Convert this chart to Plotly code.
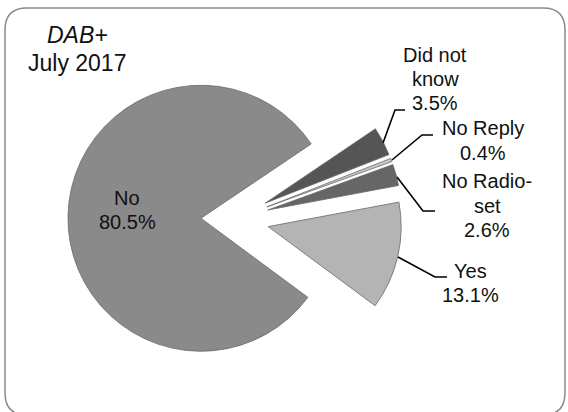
import plotly.graph_objects as go

# ---- data ----
categories = ["Did not know", "No Reply", "No Radio-set", "Yes", "No"]
values = [3.5, 0.4, 2.6, 13.1, 80.5]
display_lines = [["Did not", "know"], ["No Reply"], ["No Radio-", "set"], ["Yes"], ["No"]]
colors = ["#555555", "#c6c6c6", "#666666", "#b4b4b4", "#8a8a8a"]
title_lines = ["<i>DAB+</i>", "July 2017"]

W, H = 568, 412

def px(x):
    return x / W

def py(y):
    return 1 - y / H

# pie placement (pixels): centre (235,219), radius 133, pull 0.256
cx, cy, r, pull = 235, 219, 133, 0.256
half = r * (1 + pull)

fig = go.Figure()
fig.add_trace(go.Pie(
    labels=categories,
    values=values,
    sort=False,
    direction="clockwise",
    rotation=56,
    pull=[pull] * len(values),
    marker=dict(colors=colors, line=dict(color="#6a6a6a", width=0.8)),
    textinfo="none",
    hoverinfo="label+percent",
    showlegend=False,
    domain=dict(x=[px(cx - half), px(cx + half)], y=[py(cy + half), py(cy - half)]),
))

FAM = "Liberation Sans, Arial, sans-serif"
font = dict(family=FAM, size=20, color="#111111")

# label block layout: centre x, first line y, line step (pixels)
label_pos = {
    "Did not know": (435, 55, 24),
    "No Reply": (483, 128, 25),
    "No Radio-set": (487, 181, 24.5),
    "Yes": (470, 271, 24),
    "No": (127, 198, 24),
}
annotations = []
for cat, lines, val in zip(categories, display_lines, values):
    x, y0, step = label_pos[cat]
    for i, t in enumerate(lines + [f"{val}%"]):
        annotations.append(dict(
            x=px(x), y=py(y0 + i * step), xref="paper", yref="paper",
            text=t, showarrow=False,
            xanchor="center", yanchor="middle", align="center", font=font,
        ))

for i, t in enumerate(title_lines):
    annotations.append(dict(
        x=px(77), y=py(35 + i * 28), xref="paper", yref="paper",
        text=t, showarrow=False,
        xanchor="center", yanchor="middle", align="center",
        font=dict(family=FAM, size=23, color="#111111"),
    ))

# leader lines
leaders = [
    [(383, 143), (395, 110), (405, 110)],
    [(392, 160), (422, 135), (433, 135)],
    [(397, 177), (423, 211), (435, 211)],
    [(398, 257), (435, 277), (447, 277)],
]
shapes = []
for pts in leaders:
    path = "M " + " L ".join(f"{px(a):.5f},{py(b):.5f}" for a, b in pts)
    shapes.append(dict(type="path", path=path, xref="paper", yref="paper",
                       line=dict(color="#000000", width=1.6)))

# rounded frame
L, T, R, B, rad = 5, 8, 565, 415, 22
frame = (
    f"M {px(L)},{py(T + rad)} Q {px(L)},{py(T)} {px(L + rad)},{py(T)} "
    f"L {px(R - rad)},{py(T)} Q {px(R)},{py(T)} {px(R)},{py(T + rad)} "
    f"L {px(R)},{py(B - rad)} Q {px(R)},{py(B)} {px(R - rad)},{py(B)} "
    f"L {px(L + rad)},{py(B)} Q {px(L)},{py(B)} {px(L)},{py(B - rad)} Z"
)
shapes.append(dict(type="path", path=frame, xref="paper", yref="paper",
                   line=dict(color="#8a8a8a", width=1.5), layer="below"))

fig.update_layout(
    width=W, height=H,
    margin=dict(l=0, r=0, t=0, b=0),
    paper_bgcolor="white", plot_bgcolor="white",
    annotations=annotations, shapes=shapes,
)

fig.write_html(
    "out.html",
    config={"displayModeBar": False},
    post_script="document.body.style.margin='0';document.body.style.overflow='hidden';",
)
